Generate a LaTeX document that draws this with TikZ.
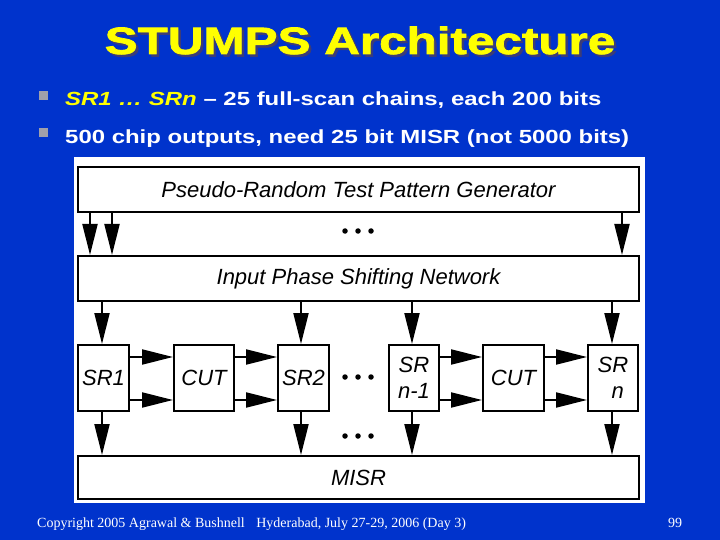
\documentclass[tikz,border=0pt]{standalone}
\usepackage{fontspec}
\setmainfont{Liberation Sans}
\newfontfamily\titlefont{Liberation Sans Bold}[FakeStretch=1.3,FakeBold=2]
\newfontfamily\bulletfont{Liberation Sans Bold}[FakeStretch=1.26]
\newfontfamily\bulletitfont{Liberation Sans Bold Italic}[FakeStretch=1.26]
\newfontfamily\diagfont{Liberation Sans Italic}
\newfontfamily\footfont{Liberation Serif}
\usetikzlibrary{arrows.meta}
\definecolor{bgblue}{RGB}{0,51,204}
\definecolor{titleyellow}{RGB}{255,255,0}
\definecolor{shadowc}{RGB}{60,60,120}
\definecolor{bulgray}{RGB}{160,160,170}
\newcommand{\shadowed}[1]{\rlap{\hspace{2.5pt}\raisebox{-2.5pt}{\textcolor{shadowc}{#1}}}\textcolor{titleyellow}{#1}}
\begin{document}
\begin{tikzpicture}[x=1pt,y=-1pt,
  box/.style={draw=black, line width=2pt, fill=white, inner sep=0pt,
    font=\diagfont\fontsize{22}{26}\selectfont},
  arr/.style={line width=2pt, -{Triangle[length=31pt,width=15pt]}},
  dotm/.style={circle, fill=black, inner sep=0pt, minimum size=5.5pt},
  bul/.style={fill=bulgray, minimum size=9pt, inner sep=0pt},
  bullettext/.style={anchor=base west, inner sep=0pt, text=white,
    font=\bulletfont\fontsize{19}{22}\selectfont}]
\useasboundingbox (0,0) rectangle (720,540);
\fill[bgblue] (0,0) rectangle (720,540);

% title (with drop shadow)
\node[anchor=base, inner sep=0pt,
  font=\titlefont\fontsize{38}{40}\selectfont] (title) at (360,54) {\shadowed{STUMPS Architecture}};

% bullets
\node[bul] (bul1) at (43,95.5) {};
\node[bul] (bul2) at (43,132.5) {};
\node[bullettext] (b1) at (65,106) {\textcolor{titleyellow}{\bulletitfont SR1 … SRn} – 25 full-scan chains, each 200 bits};
\node[bullettext] (b2) at (65,144) {500 chip outputs, need 25 bit MISR (not 5000 bits)};

% white panel
\node[fill=white, minimum width=571pt, minimum height=346pt, inner sep=0pt] (panel) at (359.5,330) {};

% boxes
\node[box, minimum width=561pt, minimum height=45pt] (gen) at (358.5,189.5) {Pseudo-Random Test Pattern Generator};
\node[box, minimum width=561pt, minimum height=45pt] (ipsn) at (358.5,278.5) {Input Phase Shifting Network};
\node[box, minimum width=51pt, minimum height=66pt] (sr1) at (103.5,378) {SR1};
\node[box, minimum width=60pt, minimum height=66pt] (cut1) at (204,378) {CUT};
\node[box, minimum width=51pt, minimum height=66pt] (sr2) at (303.5,378) {SR2};
\node[box, minimum width=50pt, minimum height=66pt, align=center] (srn1) at (414,378) {SR\\n-1};
\node[box, minimum width=61pt, minimum height=66pt] (cut2) at (513.5,378) {CUT};
\node[box, minimum width=50pt, minimum height=66pt, align=left] (srn) at (613,378) {SR\\\hspace*{14pt}n};
\node[box, minimum width=561pt, minimum height=43pt] (misr) at (358.5,477.5) {MISR};

% column coordinates
\coordinate (ga) at (90,0);
\coordinate (gb) at (112,0);
\coordinate (gc) at (622,0);
\coordinate (ca) at (102,0);
\coordinate (cb) at (301,0);
\coordinate (cc) at (412,0);
\coordinate (cd) at (612,0);
\coordinate (ya) at (0,357);
\coordinate (yb) at (0,400);

% arrows generator -> phase shifter
\draw[arr] (gen.south -| ga) -- (ipsn.north -| ga);
\draw[arr] (gen.south -| gb) -- (ipsn.north -| gb);
\draw[arr] (gen.south -| gc) -- (ipsn.north -| gc);

% arrows phase shifter -> SRs
\draw[arr] (ipsn.south -| ca) -- (sr1.north -| ca);
\draw[arr] (ipsn.south -| cb) -- (sr2.north -| cb);
\draw[arr] (ipsn.south -| cc) -- (srn1.north -| cc);
\draw[arr] (ipsn.south -| cd) -- (srn.north -| cd);

% horizontal arrows
\draw[arr] (sr1.east |- ya) -- (cut1.west |- ya);
\draw[arr] (sr1.east |- yb) -- (cut1.west |- yb);
\draw[arr] (cut1.east |- ya) -- (sr2.west |- ya);
\draw[arr] (cut1.east |- yb) -- (sr2.west |- yb);
\draw[arr] (srn1.east |- ya) -- (cut2.west |- ya);
\draw[arr] (srn1.east |- yb) -- (cut2.west |- yb);
\draw[arr] (cut2.east |- ya) -- (srn.west |- ya);
\draw[arr] (cut2.east |- yb) -- (srn.west |- yb);

% arrows SRs -> MISR
\draw[arr] (sr1.south -| ca) -- (misr.north -| ca);
\draw[arr] (sr2.south -| cb) -- (misr.north -| cb);
\draw[arr] (srn1.south -| cc) -- (misr.north -| cc);
\draw[arr] (srn.south -| cd) -- (misr.north -| cd);

% dots
\node[dotm] (d1a) at (345,231) {};
\node[dotm] (d1b) at (358,231) {};
\node[dotm] (d1c) at (371,231) {};
\node[dotm] (d2a) at (345,377) {};
\node[dotm] (d2b) at (358,377) {};
\node[dotm] (d2c) at (371,377) {};
\node[dotm] (d3a) at (345,436) {};
\node[dotm] (d3b) at (358,436) {};
\node[dotm] (d3c) at (371,436) {};

% footer
\node[anchor=base west, inner sep=0pt, text=white, font=\footfont\fontsize{14}{16}\selectfont] (foot) at (37,527)
  {Copyright 2005 Agrawal \& Bushnell\hspace{8pt} Hyderabad, July 27-29, 2006 (Day 3)};
\node[anchor=base west, inner sep=0pt, text=white, font=\footfont\fontsize{14}{16}\selectfont] (page) at (668,527) {99};
\end{tikzpicture}
\end{document}
